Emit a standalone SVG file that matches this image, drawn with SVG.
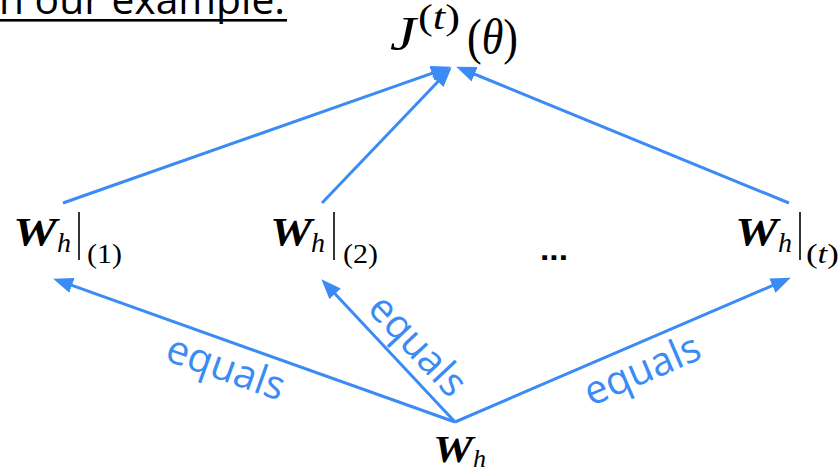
<svg xmlns="http://www.w3.org/2000/svg" width="839" height="469" viewBox="0 0 839 469">
<style>
.title{font-family:"Open Sans","Liberation Sans",sans-serif;font-size:40px;fill:#000}
.eq{font-family:"Open Sans","Liberation Sans",sans-serif;font-size:40px;fill:#3b8bf5}
.mb{font-family:"Liberation Serif","DejaVu Serif",serif;font-weight:bold;font-style:italic;fill:#000}
.mi{font-family:"Liberation Serif","DejaVu Serif",serif;font-style:italic;fill:#000}
.mr{font-family:"Liberation Serif","DejaVu Serif",serif;fill:#000}
.bar{stroke:#000;stroke-width:1.6}
.conn{stroke:#3b8bf5;stroke-width:3;fill:none}
</style>
<defs>
<marker id="ah" markerUnits="userSpaceOnUse" markerWidth="20" markerHeight="16" viewBox="0 0 18 14" refX="10" refY="7" orient="auto">
<path d="M0,0 L18,7 L0,14 z" fill="#3b8bf5"/>
</marker>
</defs>

<g id="title">
<text class="title" x="-1" y="14" textLength="286" lengthAdjust="spacingAndGlyphs">n our example.</text>
<rect x="0" y="19" width="287" height="2.6" fill="#000"/>
</g>

<g id="connectors">
<line class="conn" x1="63" y1="203" x2="442.5" y2="69.7" marker-end="url(#ah)"/>
<line class="conn" x1="322" y1="203" x2="445.5" y2="73.8" marker-end="url(#ah)"/>
<line class="conn" x1="789" y1="203" x2="464.4" y2="70" marker-end="url(#ah)"/>
<line class="conn" x1="455" y1="422" x2="61.5" y2="281.7" marker-end="url(#ah)"/>
<line class="conn" x1="455" y1="422" x2="327.5" y2="285.8" marker-end="url(#ah)"/>
<line class="conn" x1="455" y1="422" x2="782.6" y2="281.2" marker-end="url(#ah)"/>
<text class="eq" text-anchor="middle" transform="translate(221.3,380.4) rotate(19.6)">equals</text>
<text class="eq" text-anchor="middle" transform="translate(408,354.5) rotate(46.9)">equals</text>
<text class="eq" text-anchor="middle" transform="translate(647.4,382.1) rotate(-23.3)">equals</text>
</g>

<g id="node-J">
<text class="mi" x="390" y="50" font-size="48" textLength="26" lengthAdjust="spacingAndGlyphs">J</text>
<text class="mr" x="418" y="29" font-size="35" textLength="42" lengthAdjust="spacingAndGlyphs">(<tspan class="mi">t</tspan>)</text>
<text class="mr" x="467" y="54" font-size="50" textLength="51" lengthAdjust="spacingAndGlyphs">(<tspan class="mi">θ</tspan>)</text>
</g>

<g id="node-W1">
<text class="mb" x="13" y="245" font-size="40" textLength="44" lengthAdjust="spacingAndGlyphs">W</text>
<text class="mi" x="57" y="252" font-size="28">h</text>
<line class="bar" x1="79" y1="212" x2="79" y2="260"/>
<text class="mr" x="87" y="263" font-size="27" textLength="35" lengthAdjust="spacingAndGlyphs">(1)</text>
</g>

<g id="node-W2">
<text class="mb" x="270" y="245" font-size="40" textLength="42" lengthAdjust="spacingAndGlyphs">W</text>
<text class="mi" x="311" y="252" font-size="28">h</text>
<line class="bar" x1="334" y1="212" x2="334" y2="260"/>
<text class="mr" x="343" y="263" font-size="27" textLength="35" lengthAdjust="spacingAndGlyphs">(2)</text>
</g>

<g id="node-dots">
<text x="540" y="260" font-family="Liberation Sans, sans-serif" font-weight="bold" font-size="32" textLength="28" lengthAdjust="spacingAndGlyphs">...</text>
</g>

<g id="node-Wt">
<text class="mb" x="735" y="245" font-size="40" textLength="43" lengthAdjust="spacingAndGlyphs">W</text>
<text class="mi" x="778" y="252" font-size="28">h</text>
<line class="bar" x1="800" y1="212" x2="800" y2="260"/>
<text class="mr" x="806" y="263" font-size="27" textLength="33" lengthAdjust="spacingAndGlyphs">(<tspan class="mi">t</tspan>)</text>
</g>

<g id="node-Wh">
<text class="mb" x="433" y="462" font-size="38" textLength="40" lengthAdjust="spacingAndGlyphs">W</text>
<text class="mi" x="473" y="467" font-size="26">h</text>
</g>
</svg>
